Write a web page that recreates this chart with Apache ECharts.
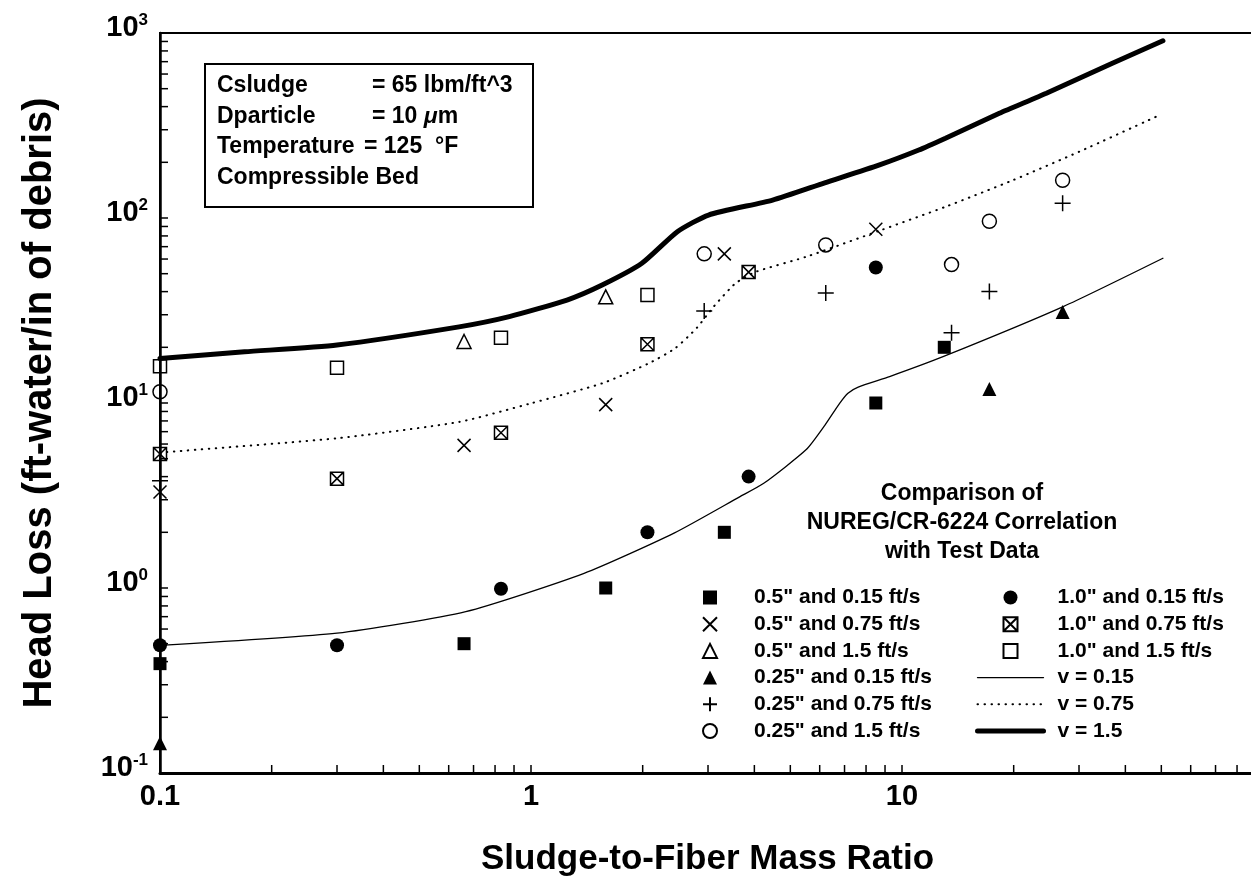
<!DOCTYPE html>
<html><head><meta charset="utf-8">
<script src="https://cdn.jsdelivr.net/npm/echarts@6/dist/echarts.min.js"></script>
<style>html,body{margin:0;padding:0;background:#fff}#c{width:1251px;height:882px}</style>
</head><body><div id="c"></div>
<script>
const FONT = '"Liberation Sans", Arial, Helvetica, sans-serif';

// ---- test data: [sludge-to-fiber mass ratio, head loss (ft-water/in of debris)]
const s05_015  = [[0.1,0.39],[0.66,0.50],[1.59,1.0],[3.32,2.0],[8.5,10.0],[13.0,20]];
const s05_075  = [[0.1,3.3],[0.66,5.9],[1.59,9.8],[3.32,64],[8.5,87]];
const s05_15   = [[0.66,21.5],[1.59,37.5]];
const s025_015 = [[0.1,0.145],[17.2,11.9],[27.1,31]];
const s025_075 = [[0.1,3.8],[2.93,31.4],[6.23,39.3],[13.6,24],[17.2,40],[27.1,120]];
const s025_15  = [[0.1,11.5],[2.93,64],[6.23,71.5],[13.6,56],[17.2,96],[27.1,160]];
const s10_015  = [[0.1,0.49],[0.3,0.49],[0.83,0.99],[2.06,2.0],[3.86,4.0],[8.5,54]];
const s10_075  = [[0.1,5.3],[0.3,3.9],[0.83,6.9],[2.06,20.8],[3.86,51]];
const s10_15   = [[0.1,15.8],[0.3,15.5],[0.83,22.5],[2.06,38.4]];

// ---- NUREG/CR-6224 correlation curves
const corr015 = [[0.1,0.49],[0.3,0.57],[0.667,0.745],[1.39,1.2],[2.43,1.98],[3.65,3.11],[4.24,3.68],[5.52,5.6],[6.2,7.6],[6.79,9.96],[7.15,11.3],[7.62,12.2],[9.26,13.9],[12.9,17.8],[27.2,33.2],[50.5,60.6]];
const corr075 = [[0.1,5.4],[0.3,6.45],[0.64,7.9],[1.0,9.96],[1.56,12.8],[2.08,16.4],[2.45,19.8],[2.8,25.5],[3.1,33],[3.56,44.4],[4.05,51.3],[5.53,61.8],[8.78,86],[13.1,115],[19.9,160],[30,228],[48.9,356]];
const corr15  = [[0.1,17.4],[0.169,18.9],[0.3,20.6],[0.64,25.8],[0.874,29.3],[1.25,36],[1.555,43.4],[1.99,56.9],[2.48,84.3],[3.01,103.8],[4.48,125],[6.19,155],[8.66,193],[11.1,233],[13.1,270],[18.3,368],[24.5,472],[36.9,686],[50.5,908]];

// ---- axis ticks
const xTickLabels = {0.1:'0.1', 1:'1', 10:'10'};
const minorMultipliers = [2,3,4,5,6,7,8,9];
const yDecades = [0.1,1,10,100];
const xDecades = [0.1,1,10];
const yMinorTicks = [], xMinorTicks = [];
yDecades.forEach(d => minorMultipliers.forEach(k => yMinorTicks.push([0.1, +(k*d).toPrecision(3)])));
xDecades.forEach(d => minorMultipliers.forEach(k => xMinorTicks.push([+(k*d).toPrecision(3), 0.1])));

const names = ['0.5" and 0.15 ft/s','0.5" and 0.75 ft/s','0.5" and 1.5 ft/s',
  '0.25" and 0.15 ft/s','0.25" and 0.75 ft/s','0.25" and 1.5 ft/s',
  '1.0" and 0.15 ft/s','1.0" and 0.75 ft/s','1.0" and 1.5 ft/s',
  'v = 0.15','v = 0.75','v = 1.5'];
const lineWidths = [1.3, 2, 5];

const SQ = 'path://M0,0L10,0L10,10L0,10Z';
const TRI = 'path://M5,0L10,10L0,10Z';
const CROSS = 'path://M0,0L10,10M10,0L0,10';
const PLUS = 'path://M5,0L5,10M0,5L10,5';
const BOXX = 'path://M0,0L10,0L10,10L0,10Z M0,0L10,10 M10,0L0,10';

const filled = {color:'#000', borderColor:'#000', borderWidth:0, opacity:1};
const open = {color:'rgba(255,255,255,0)', borderColor:'#000', borderWidth:1.5, opacity:1};

function sc(name, data, symbol, size, style) {
  return {type:'scatter', name, data, symbol, symbolSize:size, symbolKeepAspect:true,
    itemStyle:style, z:5, emphasis:{disabled:true}, silent:true};
}
function ln(name, data, width, type) {
  return {type:'line', name, data, symbol:'none', showSymbol:false, smooth:0.2,
    itemStyle:{color:'#000', opacity:0},
    lineStyle:{color:'#000', width, type, cap:'round'}, z:3, emphasis:{disabled:true}, silent:true};
}

const legendText = (pad) => ({
  rich: {
    g: {width: pad},
    t: {fontFamily: FONT, fontWeight:'bold', fontSize:21, color:'#000'}
  }
});
const lineLegendItem = (n, i) => ({name:n, itemStyle:{opacity:0, color:'rgba(0,0,0,0)', borderWidth:0},
  lineStyle:{width:lineWidths[i], color:'#000'}});

const chart = echarts.init(document.getElementById('c'), null, {renderer:'canvas'});
chart.setOption({
  animation:false,
  backgroundColor:'#fff',
  grid:{left:160, top:33, width:1113, height:740, show:true, borderColor:'#000', borderWidth:2,
    backgroundColor:'transparent', containLabel:false, outerBoundsMode:'none'},
  xAxis:{type:'log', logBase:10, min:0.1, max:100,
    name:'Sludge-to-Fiber Mass Ratio', nameLocation:'middle', nameGap:69,
    nameTextStyle:{fontFamily:FONT, fontWeight:'bold', fontSize:35, color:'#000', padding:[0,18,0,0]},
    axisLine:{lineStyle:{color:'#000', width:3}},
    axisTick:{inside:true, length:8, lineStyle:{color:'#000', width:1.5}},
    axisLabel:{margin:9, fontFamily:FONT, fontWeight:'bold', fontSize:29, color:'#000',
      formatter: v => { for (const k in xTickLabels) { if (Math.abs(Math.log10(v) - Math.log10(+k)) < 1e-6) return xTickLabels[k]; } return ''; }},
    splitLine:{show:false}},
  yAxis:{type:'log', logBase:10, min:0.1, max:1000,
    name:'Head Loss (ft-water/in of debris)', nameLocation:'middle', nameGap:100,
    nameTextStyle:{fontFamily:FONT, fontWeight:'bold', fontSize:40, color:'#000'},
    axisLine:{lineStyle:{color:'#000', width:2.5}},
    axisTick:{inside:true, length:8, lineStyle:{color:'#000', width:1.5}},
    axisLabel:{margin:12, padding:[0,0,12,0], color:'#000',
      formatter: v => '{b|10}{s|' + Math.round(Math.log10(v)) + '}',
      rich:{
        b:{fontFamily:FONT, fontWeight:'bold', fontSize:29, lineHeight:30, verticalAlign:'bottom', color:'#000'},
        s:{fontFamily:FONT, fontWeight:'bold', fontSize:17, lineHeight:30, verticalAlign:'top', color:'#000'}
      }},
    splitLine:{show:false}},
  legend:[
    {orient:'vertical', left:702, top:587, itemWidth:14, itemHeight:14, itemGap:5.7, padding:0,
      selectedMode:false, data:names.slice(0,6), formatter: n => '{g|}{t|' + n + '}', textStyle:legendText(32)},
    {orient:'vertical', left:975, top:587, itemWidth:66, itemHeight:14, itemGap:5.7, padding:0,
      selectedMode:false, lineStyle:{width:'inherit'},
      data:names.slice(6,9).concat(names.slice(9).map(lineLegendItem)),
      formatter: n => '{g|}{t|' + n + '}', textStyle:legendText(9)}
  ],
  graphic:[
    {type:'rect', shape:{x:205, y:64, width:328, height:143}, style:{fill:'#fff', stroke:'#000', lineWidth:2}, z:10},
    {type:'text', x:217, y:86, z:11, style:{text:'Csludge', font:'bold 23px '+FONT, fill:'#000', verticalAlign:'middle', textVerticalAlign:'middle'}},
    {type:'text', x:217, y:117, z:11, style:{text:'Dparticle', font:'bold 23px '+FONT, fill:'#000', verticalAlign:'middle', textVerticalAlign:'middle'}},
    {type:'text', x:217, y:147, z:11, style:{text:'Temperature', font:'bold 23px '+FONT, fill:'#000', verticalAlign:'middle', textVerticalAlign:'middle'}},
    {type:'text', x:217, y:178, z:11, style:{text:'Compressible Bed', font:'bold 23px '+FONT, fill:'#000', verticalAlign:'middle', textVerticalAlign:'middle'}},
    {type:'text', x:372, y:86, z:11, style:{text:'= 65 lbm/ft^3', font:'bold 23px '+FONT, fill:'#000', verticalAlign:'middle', textVerticalAlign:'middle'}},
    {type:'text', x:372, y:117, z:11, style:{text:'= 10 {i|μ}m', font:'bold 23px '+FONT, fill:'#000', verticalAlign:'middle', textVerticalAlign:'middle',
      rich:{i:{fontFamily:FONT, fontStyle:'italic', fontWeight:'bold', fontSize:23, fill:'#000', color:'#000'}}}},
    {type:'text', x:364, y:147, z:11, style:{text:'= 125  °F', font:'bold 23px '+FONT, fill:'#000', verticalAlign:'middle', textVerticalAlign:'middle'}},
    {type:'text', x:962, y:494, z:11, style:{text:'Comparison of', font:'bold 23px '+FONT, fill:'#000', align:'center', textAlign:'center', verticalAlign:'middle', textVerticalAlign:'middle'}},
    {type:'text', x:962, y:523, z:11, style:{text:'NUREG/CR-6224 Correlation', font:'bold 23px '+FONT, fill:'#000', align:'center', textAlign:'center', verticalAlign:'middle', textVerticalAlign:'middle'}},
    {type:'text', x:962, y:552, z:11, style:{text:'with Test Data', font:'bold 23px '+FONT, fill:'#000', align:'center', textAlign:'center', verticalAlign:'middle', textVerticalAlign:'middle'}}
  ],
  series:[
    sc(names[0], s05_015, SQ, 13, filled),
    sc(names[1], s05_075, CROSS, 13, open),
    sc(names[2], s05_15, TRI, 14, open),
    sc(names[3], s025_015, TRI, 14, filled),
    sc(names[4], s025_075, PLUS, 16, open),
    sc(names[5], s025_15, 'circle', 14, open),
    sc(names[6], s10_015, 'circle', 14, filled),
    sc(names[7], s10_075, BOXX, 13, open),
    sc(names[8], s10_15, SQ, 13, open),
    ln(names[9], corr015, lineWidths[0], 'solid'),
    ln(names[10], corr075, lineWidths[1], [0.5, 6.5]),
    ln(names[11], corr15, lineWidths[2], 'solid'),
    {type:'custom', name:'yMinor', silent:true, z:4, data:yMinorTicks,
      renderItem:(p, api) => { const c = api.coord([api.value(0), api.value(1)]);
        return {type:'line', shape:{x1:c[0], y1:c[1], x2:c[0]+8, y2:c[1]}, style:{stroke:'#000', lineWidth:1.5}}; }},
    {type:'custom', name:'xMinor', silent:true, z:4, data:xMinorTicks,
      renderItem:(p, api) => { const c = api.coord([api.value(0), api.value(1)]);
        return {type:'line', shape:{x1:c[0], y1:c[1], x2:c[0], y2:c[1]-8}, style:{stroke:'#000', lineWidth:1.5}}; }}
  ]
});
</script></body></html>
